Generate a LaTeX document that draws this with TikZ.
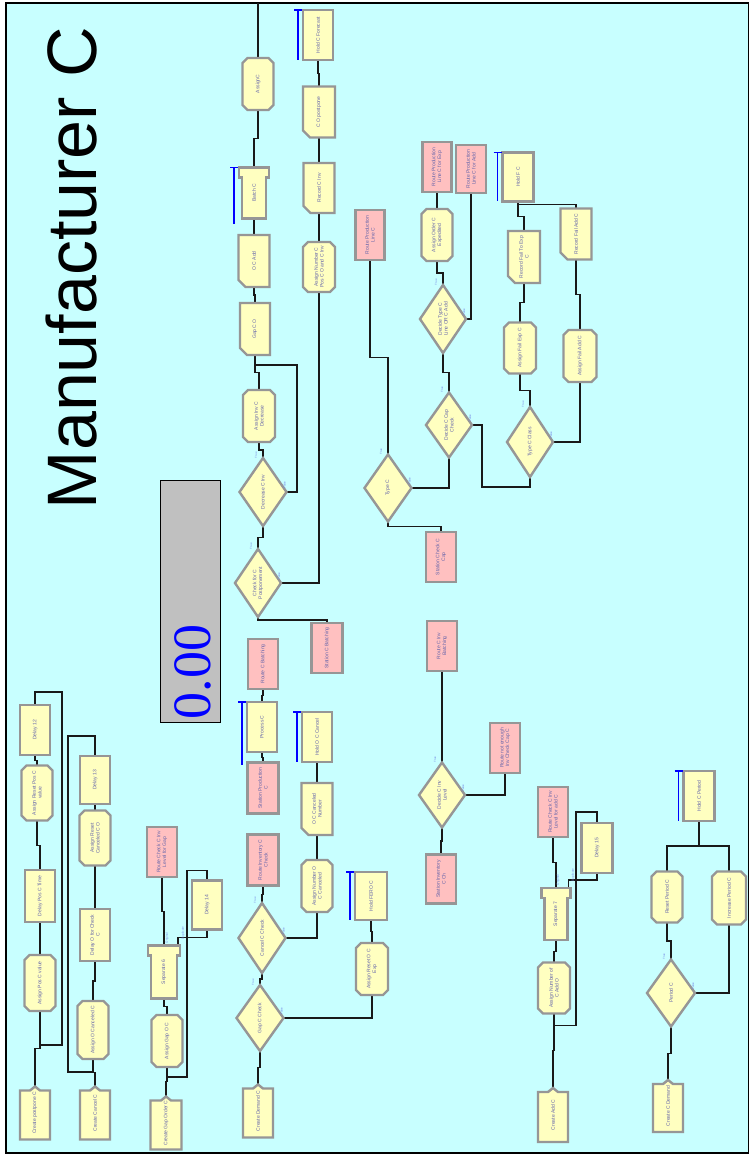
\documentclass[tikz,border=0pt]{standalone}
\usepackage{fontspec}
\setmainfont{Liberation Sans}
\newfontfamily\gaugefont{Liberation Serif}
\usetikzlibrary{calc}
\pgfdeclarelayer{bg}\pgfdeclarelayer{conn}\pgfdeclarelayer{shp}
\pgfsetlayers{bg,conn,shp,main}
\definecolor{bgc}{RGB}{200,255,255}
\definecolor{ylw}{RGB}{255,255,192}
\definecolor{pnk}{RGB}{255,192,192}
\definecolor{brd}{RGB}{150,150,150}
\definecolor{txtc}{RGB}{100,100,170}
\definecolor{lnc}{RGB}{25,25,25}
\definecolor{tfc}{RGB}{120,140,230}
\definecolor{gaugec}{RGB}{192,192,192}
\tikzset{
 blk/.style={rectangle, inner sep=0pt, outer sep=0pt, text=txtc, font=\fontsize{5}{5.6}\selectfont},
 bx/.style={draw=brd, line width=2.4pt, line join=miter},
 ln/.style={draw=lnc, line width=1.1pt},
 bb/.style={draw=blue, line width=1.2pt},
 vjog/.style={to path={|- ($(\tikztostart)!0.5!(\tikztotarget)$) -| (\tikztotarget)}},
 tfl/.style={text=tfc, font=\fontsize{3}{3}\selectfont, rotate=90, inner sep=0pt},
}
\newcommand\shpbox[1]{\filldraw[bx,fill=ylw] (#1.north west) rectangle (#1.south east);}
\newcommand\shppink[1]{\filldraw[bx,fill=pnk] (#1.north west) rectangle (#1.south east);}
\newcommand\shpassign[1]{\filldraw[bx,fill=ylw] ($(#1.north west)!5pt!(#1.north east)$) -- ($(#1.north east)!5pt!(#1.north west)$) -- ($(#1.north east)!5pt!(#1.south east)$) -- ($(#1.south east)!5pt!(#1.north east)$) -- ($(#1.south east)!5pt!(#1.south west)$) -- ($(#1.south west)!5pt!(#1.south east)$) -- ($(#1.south west)!5pt!(#1.north west)$) -- ($(#1.north west)!5pt!(#1.south west)$) -- cycle;}
\newcommand\shprecord[1]{\filldraw[bx,fill=ylw] (#1.north west) -- (#1.north east) -- (#1.south east) -- ($(#1.south west)!7pt!(#1.south east)$) -- ($(#1.south west)!7pt!(#1.north west)$) -- cycle;}
\newcommand\shpdecide[1]{\filldraw[bx,fill=ylw] (#1.north) -- (#1.east) -- (#1.south) -- (#1.west) -- cycle;}
\newcommand\shpcreate[1]{\filldraw[bx,fill=ylw] (#1.south west) -- (#1.south east) -- ([yshift=-4pt]#1.north east) -- ([xshift=5pt,yshift=-4pt]#1.north) -- (#1.north) -- ([xshift=-5pt,yshift=-4pt]#1.north) -- ([yshift=-4pt]#1.north west) -- cycle;}
\newcommand\shpseparate[1]{\filldraw[bx,fill=ylw] (#1.north west) -- (#1.north east) -- ([yshift=-10pt]#1.north east) -- ([xshift=-3pt,yshift=-10pt]#1.north east) -- ([xshift=-3pt]#1.south east) -- ([xshift=3pt]#1.south west) -- ([xshift=3pt,yshift=-10pt]#1.north west) -- ([yshift=-10pt]#1.north west) -- cycle;}
\newcommand\blk[7]{\node[blk, minimum width=#5pt, minimum height=#6pt] (#2) at (#3,#4) {\rotatebox{90}{\parbox{\dimexpr#6pt-8pt\relax}{\centering #7}}};
 \begin{pgfonlayer}{shp}\csname shp#1\endcsname{#2}\end{pgfonlayer}}
\newcommand\dec[6]{\node[blk, minimum width=#4pt, minimum height=#5pt] (#1) at (#2,#3) {\rotatebox{90}{\parbox{\dimexpr#5pt*3/5\relax}{\centering #6}}};
 \begin{pgfonlayer}{shp}\shpdecide{#1}\end{pgfonlayer}
 \node[tfl] (#1T) at ([xshift=-7pt,yshift=3pt]#1.north) {True};
 \node[tfl] (#1F) at ([xshift=-2pt,yshift=7pt]#1.east) {False};}
\newcommand\bbar[2]{\draw[bb] ([xshift=-5pt]#1.north west) -- ++(0,#2); \draw[bb] ([xshift=-9pt]#1.north west) -- ([xshift=-1pt]#1.north west);}
\begin{document}
\begin{tikzpicture}[x=1pt,y=-1pt]
\useasboundingbox (0,0) rectangle (750,1155);
\begin{pgfonlayer}{bg}
\fill[white] (0,0) rectangle (750,1155);
\filldraw[fill=bgc, draw=black, line width=1.4pt] (6,3) rectangle (748.5,1153);
\end{pgfonlayer}
% title and gauge
\node[rotate=90, font=\fontsize{70}{80}\selectfont, inner sep=0pt] (title) at (72,268) {Manufacturer C};
\node[draw=black, line width=0.8pt, fill=gaugec, minimum width=60pt, minimum height=242pt, inner sep=0pt] (gauge) at (190,601) {};
\node[rotate=90, text=blue, font=\gaugefont\fontsize{54}{60}\selectfont, inner sep=0pt] (gval) at (193,672) {0.00};
% column A
\blk{box}{delay12}{35}{730}{30}{50}{Delay 12}
\blk{assign}{asgResetPos}{37}{793}{31}{55}{Assign Reset Pos C value}
\blk{box}{delayPosTime}{40}{896}{30}{52}{Delay Pos C Time}
\blk{assign}{asgPosVal}{40}{983}{31}{56}{Assign Pos C value}
\blk{create}{createPost}{35}{1113}{30}{53}{Create postpone C}
% column B
\blk{box}{delay13}{95}{780}{30}{48}{Delay 13}
\blk{assign}{asgResetCanc}{95}{838}{31}{55}{Assign Reset Canceled C O}
\blk{box}{delayOCheck}{95}{935}{30}{52}{Delay O for Check C}
\blk{assign}{asgOCanc}{93}{1030}{31}{58}{Assign O Canceled C}
\blk{create}{createCancel}{95}{1113}{30}{53}{Create Cancel C}
% gap order group
\blk{pink}{routeCheckGap}{162}{852}{30}{50}{Route Check C Inv Level for Gap}
\blk{box}{delay14}{207}{905}{30}{49}{Delay 14}
\blk{separate}{sep6}{164}{972}{32}{53}{Separate 6}
\blk{assign}{asgGapO}{167}{1041}{31}{52}{Assign Gap O C}
\blk{create}{createGap}{166}{1123}{31}{53}{Create Gap Order C}
\node[tfl] (sep6o) at (167,938) {Original};
\node[tfl] (sep6d) at (183,933) {Duplicate};
% upper main column
\blk{assign}{assignC}{258}{84}{31}{52}{AssignC}
\blk{separate}{batchC}{254}{193}{30}{51}{Batch C}
\blk{record}{ocAdd}{254}{261}{31}{52}{O C Add}
\blk{record}{gapCO}{255}{329}{30}{52}{Gap C O}
\blk{assign}{asgInvDec}{259}{416}{32}{52}{Assign Inv C Decrease}
\dec{decInv}{263}{492}{47}{68}{Decrease C Inv}
\dec{checkPost}{258}{583}{46}{68}{Check for C Postponement}
\blk{pink}{stCBatch}{327}{648}{31}{50}{Station C Batching}
\blk{box}{holdCF}{318}{35}{30}{50}{Hold C Forecast}
\blk{record}{coPost}{319}{112}{32}{51}{C O postpone}
\blk{record}{recCInv}{319}{188}{31}{50}{Record C Inv}
\blk{assign}{asgNumCPos}{319}{267}{32}{50}{Assign Number C Pos C O and C Inv}
% lower main column
\blk{pink}{routeCBatch}{263}{664}{30}{50}{Route C Batching}
\blk{box}{processC}{262}{727}{30}{50}{Process C}
\blk{pink}{stationProd}{263}{788}{31}{51}{Station Production C}
\blk{pink}{routeInvCheck}{263}{860}{31}{51}{Route Inventory C Check}
\dec{cancelCheck}{262}{938}{47}{70}{Cancel C Check}
\dec{gapCheck}{260}{1018}{47}{66}{Gap C Check}
\blk{create}{createDemand}{258}{1111}{30}{53}{Create Demand C}
\blk{assign}{asgNumOCC}{317}{886}{31}{52}{Assign Number O C Canceled}
\blk{record}{ocCancNum}{317}{809}{31}{52}{O C Canceled Number}
\blk{box}{holdOCC}{317}{737}{30}{50}{Hold O C Cancel}
\blk{box}{holdFERO}{371}{896}{32}{48}{Hold FERO C}
\blk{assign}{asgResetOCExp}{372}{969}{32}{52}{Assign Reset O C Exp}
% right middle
\blk{pink}{routeProdLine}{370}{235}{29}{50}{Route Production Line C}
\blk{pink}{routeProdExp}{437}{167}{29}{50}{Route Production Line C for Exp}
\blk{pink}{routeProdAdd}{471}{169}{30}{48}{Route Production Line C for Add}
\blk{assign}{asgOrderExp}{437}{235}{31}{52}{Assign Order C Expedited}
\dec{decTypeLine}{443}{319}{46}{68}{Decide Type C Line OR C Add}
\dec{decCapCheck}{449}{425}{46}{65}{Decide C Cap Check}
\dec{typeC}{388}{488}{47}{67}{Type C}
\blk{pink}{stCheckCap}{441}{557}{30}{50}{Station Check C Cap}
\blk{box}{holdFC}{518}{177}{31}{49}{Hold F C}
\blk{record}{recFailExp}{524}{257}{32}{52}{Record Fail To Exp C}
\blk{assign}{asgFailExp}{520}{348}{32}{51}{Assign Fail Exp C}
\dec{typeCClass}{530}{442}{46}{70}{Type C Class}
\blk{record}{recFailAdd}{576}{234}{31}{51}{Record Fail Add C}
\blk{assign}{asgFailAdd}{580}{356}{33}{52}{Assign Fail Add C}
% inventory decide
\blk{pink}{routeCInvBatch}{442}{646}{30}{50}{Route C Inv Batching}
\dec{decInvLevel}{442}{795}{46}{65}{Decide C Inv Level}
\blk{pink}{stationInv}{441}{879}{30}{49}{Station Inventory C Ch}
\blk{pink}{routeNotEnough}{505}{748}{30}{50}{Route not enough Inv Check Cap C}
% add group
\blk{pink}{routeCheckAdd}{553}{812}{30}{50}{Route Check C Inv Level for add C}
\blk{box}{delay15}{597}{848}{31}{50}{Delay 15}
\blk{separate}{sep7}{556}{914}{29}{52}{Separate 7}
\blk{assign}{asgNumAdd}{554}{988}{32}{51}{Assign Number of C Add O}
\blk{create}{createAdd}{553}{1115}{30}{54}{Create Add C}
\node[tfl] (sep7o) at (558,880) {Original};
\node[tfl] (sep7d) at (573,875) {Duplicate};
% period group
\blk{box}{holdCPeriod}{699}{796}{31}{50}{Hold C Period}
\blk{assign}{resetPeriod}{667}{897}{31}{51}{Reset Period C}
\blk{assign}{incPeriod}{729}{898}{34}{53}{Increase Period C}
\dec{periodC}{671}{993}{48}{67}{Period C}
\blk{create}{createCDemand}{668}{1106}{30}{52}{Create C Demand}
% blue bars
\bbar{batchC}{57}
\bbar{holdCF}{50}
\bbar{processC}{63}
\bbar{holdOCC}{50}
\bbar{holdFERO}{48}
\bbar{holdFC}{49}
\bbar{holdCPeriod}{50}
\coordinate (topc) at (258,3);
% connectors
\begin{pgfonlayer}{conn}
\draw[ln] (createPost.north) to[vjog] (asgPosVal.south);
\draw[ln] (asgPosVal.north) to[vjog] (delayPosTime.south);
\draw[ln] (delayPosTime.north) to[vjog] (asgResetPos.south);
\draw[ln] (asgResetPos.north) to[vjog] (delay12.south);
\draw[ln] (delay12.north) -- ++(0,-13) -| ($(asgPosVal.south)+(22,34)$) -- ($(asgPosVal.south)+(0,34)$);
\draw[ln] (createCancel.north) to[vjog] (asgOCanc.south);
\draw[ln] (asgOCanc.north) to[vjog] (delayOCheck.south);
\draw[ln] (delayOCheck.north) to[vjog] (asgResetCanc.south);
\draw[ln] (asgResetCanc.north) to[vjog] (delay13.south);
\draw[ln] (delay13.north) -- ++(0,-20) -| ($(asgOCanc.south)+(-25,13)$) -- ($(asgOCanc.south)+(0,13)$);
\draw[ln] (createGap.north) to[vjog] (asgGapO.south);
\draw[ln] (asgGapO.north) to[vjog] (sep6.south);
\draw[ln] (sep6.north) to[vjog] (routeCheckGap.south);
\draw[ln] ([xshift=-2pt]sep6.north east) -- ++(0,-8) -| (delay14.south);
\draw[ln] (delay14.north) -- ++(0,-10) -| ($(asgGapO.south)+(20,10)$) -- ($(asgGapO.south)+(0,10)$);
\draw[ln] (assignC.north) -- (topc);
\draw[ln] (batchC.north) to[vjog] (assignC.south);
\draw[ln] (ocAdd.north) to[vjog] (batchC.south);
\draw[ln] (gapCO.north) to[vjog] (ocAdd.south);
\draw[ln] (asgInvDec.north) to[vjog] (gapCO.south);
\draw[ln] (decInv.north) to[vjog] (asgInvDec.south);
\draw[ln] (decInv.east) -| ($(gapCO.south)+(42,10)$) -- ($(gapCO.south)+(0,10)$);
\draw[ln] (checkPost.north) to[vjog] (decInv.south);
\draw[ln] (stCBatch.north) to[vjog] (checkPost.south);
\draw[ln] (checkPost.east) -| (asgNumCPos.south);
\draw[ln] (asgNumCPos.north) to[vjog] (recCInv.south);
\draw[ln] (recCInv.north) to[vjog] (coPost.south);
\draw[ln] (coPost.north) to[vjog] (holdCF.south);
\draw[ln] (processC.north) to[vjog] (routeCBatch.south);
\draw[ln] (stationProd.north) to[vjog] (processC.south);
\draw[ln] (cancelCheck.north) to[vjog] (routeInvCheck.south);
\draw[ln] (gapCheck.north) to[vjog] (cancelCheck.south);
\draw[ln] (createDemand.north) to[vjog] (gapCheck.south);
\draw[ln] (cancelCheck.east) -| (asgNumOCC.south);
\draw[ln] (asgNumOCC.north) to[vjog] (ocCancNum.south);
\draw[ln] (ocCancNum.north) to[vjog] (holdOCC.south);
\draw[ln] (gapCheck.east) -| (asgResetOCExp.south);
\draw[ln] (asgResetOCExp.north) to[vjog] (holdFERO.south);
\draw[ln] (typeC.north) to[vjog] (routeProdLine.south);
\draw[ln] (stCheckCap.north) to[vjog] (typeC.south);
\draw[ln] (typeC.east) -| (decCapCheck.south);
\draw[ln] (decCapCheck.north) to[vjog] (decTypeLine.south);
\draw[ln] (decTypeLine.north) to[vjog] (asgOrderExp.south);
\draw[ln] (asgOrderExp.north) to[vjog] (routeProdExp.south);
\draw[ln] (decTypeLine.east) -| (routeProdAdd.south);
\draw[ln] (decCapCheck.east) -| ($(decCapCheck.east)+(10,62)$) -| (typeCClass.south);
\draw[ln] (typeCClass.north) to[vjog] (asgFailExp.south);
\draw[ln] (asgFailExp.north) to[vjog] (recFailExp.south);
\draw[ln] (recFailExp.north) to[vjog] (holdFC.south);
\draw[ln] (recFailAdd.north) -- ++(0,-4) -| (holdFC.south);
\draw[ln] (typeCClass.east) -| (asgFailAdd.south);
\draw[ln] (asgFailAdd.north) to[vjog] (recFailAdd.south);
\draw[ln] (stationInv.north) to[vjog] (decInvLevel.south);
\draw[ln] (decInvLevel.north) to[vjog] (routeCInvBatch.south);
\draw[ln] (decInvLevel.east) -| (routeNotEnough.south);
\draw[ln] (createAdd.north) to[vjog] (asgNumAdd.south);
\draw[ln] (asgNumAdd.north) to[vjog] (sep7.south);
\draw[ln] (sep7.north) to[vjog] (routeCheckAdd.south);
\draw[ln] ([xshift=-2pt]sep7.north east) -- ++(0,-8) -| (delay15.south);
\draw[ln] (delay15.north) -- ++(0,-11) -| ($(asgNumAdd.south)+(22,12)$) -- ($(asgNumAdd.south)+(0,12)$);
\draw[ln] (createCDemand.north) to[vjog] (periodC.south);
\draw[ln] (periodC.north) to[vjog] (resetPeriod.south);
\draw[ln] (periodC.east) -| (incPeriod.south);
\draw[ln] (resetPeriod.north) |- ($(holdCPeriod.south)+(0,25)$) -| (incPeriod.north);
\draw[ln] (holdCPeriod.south) -- ++(0,25);
\end{pgfonlayer}
\end{tikzpicture}
\end{document}
